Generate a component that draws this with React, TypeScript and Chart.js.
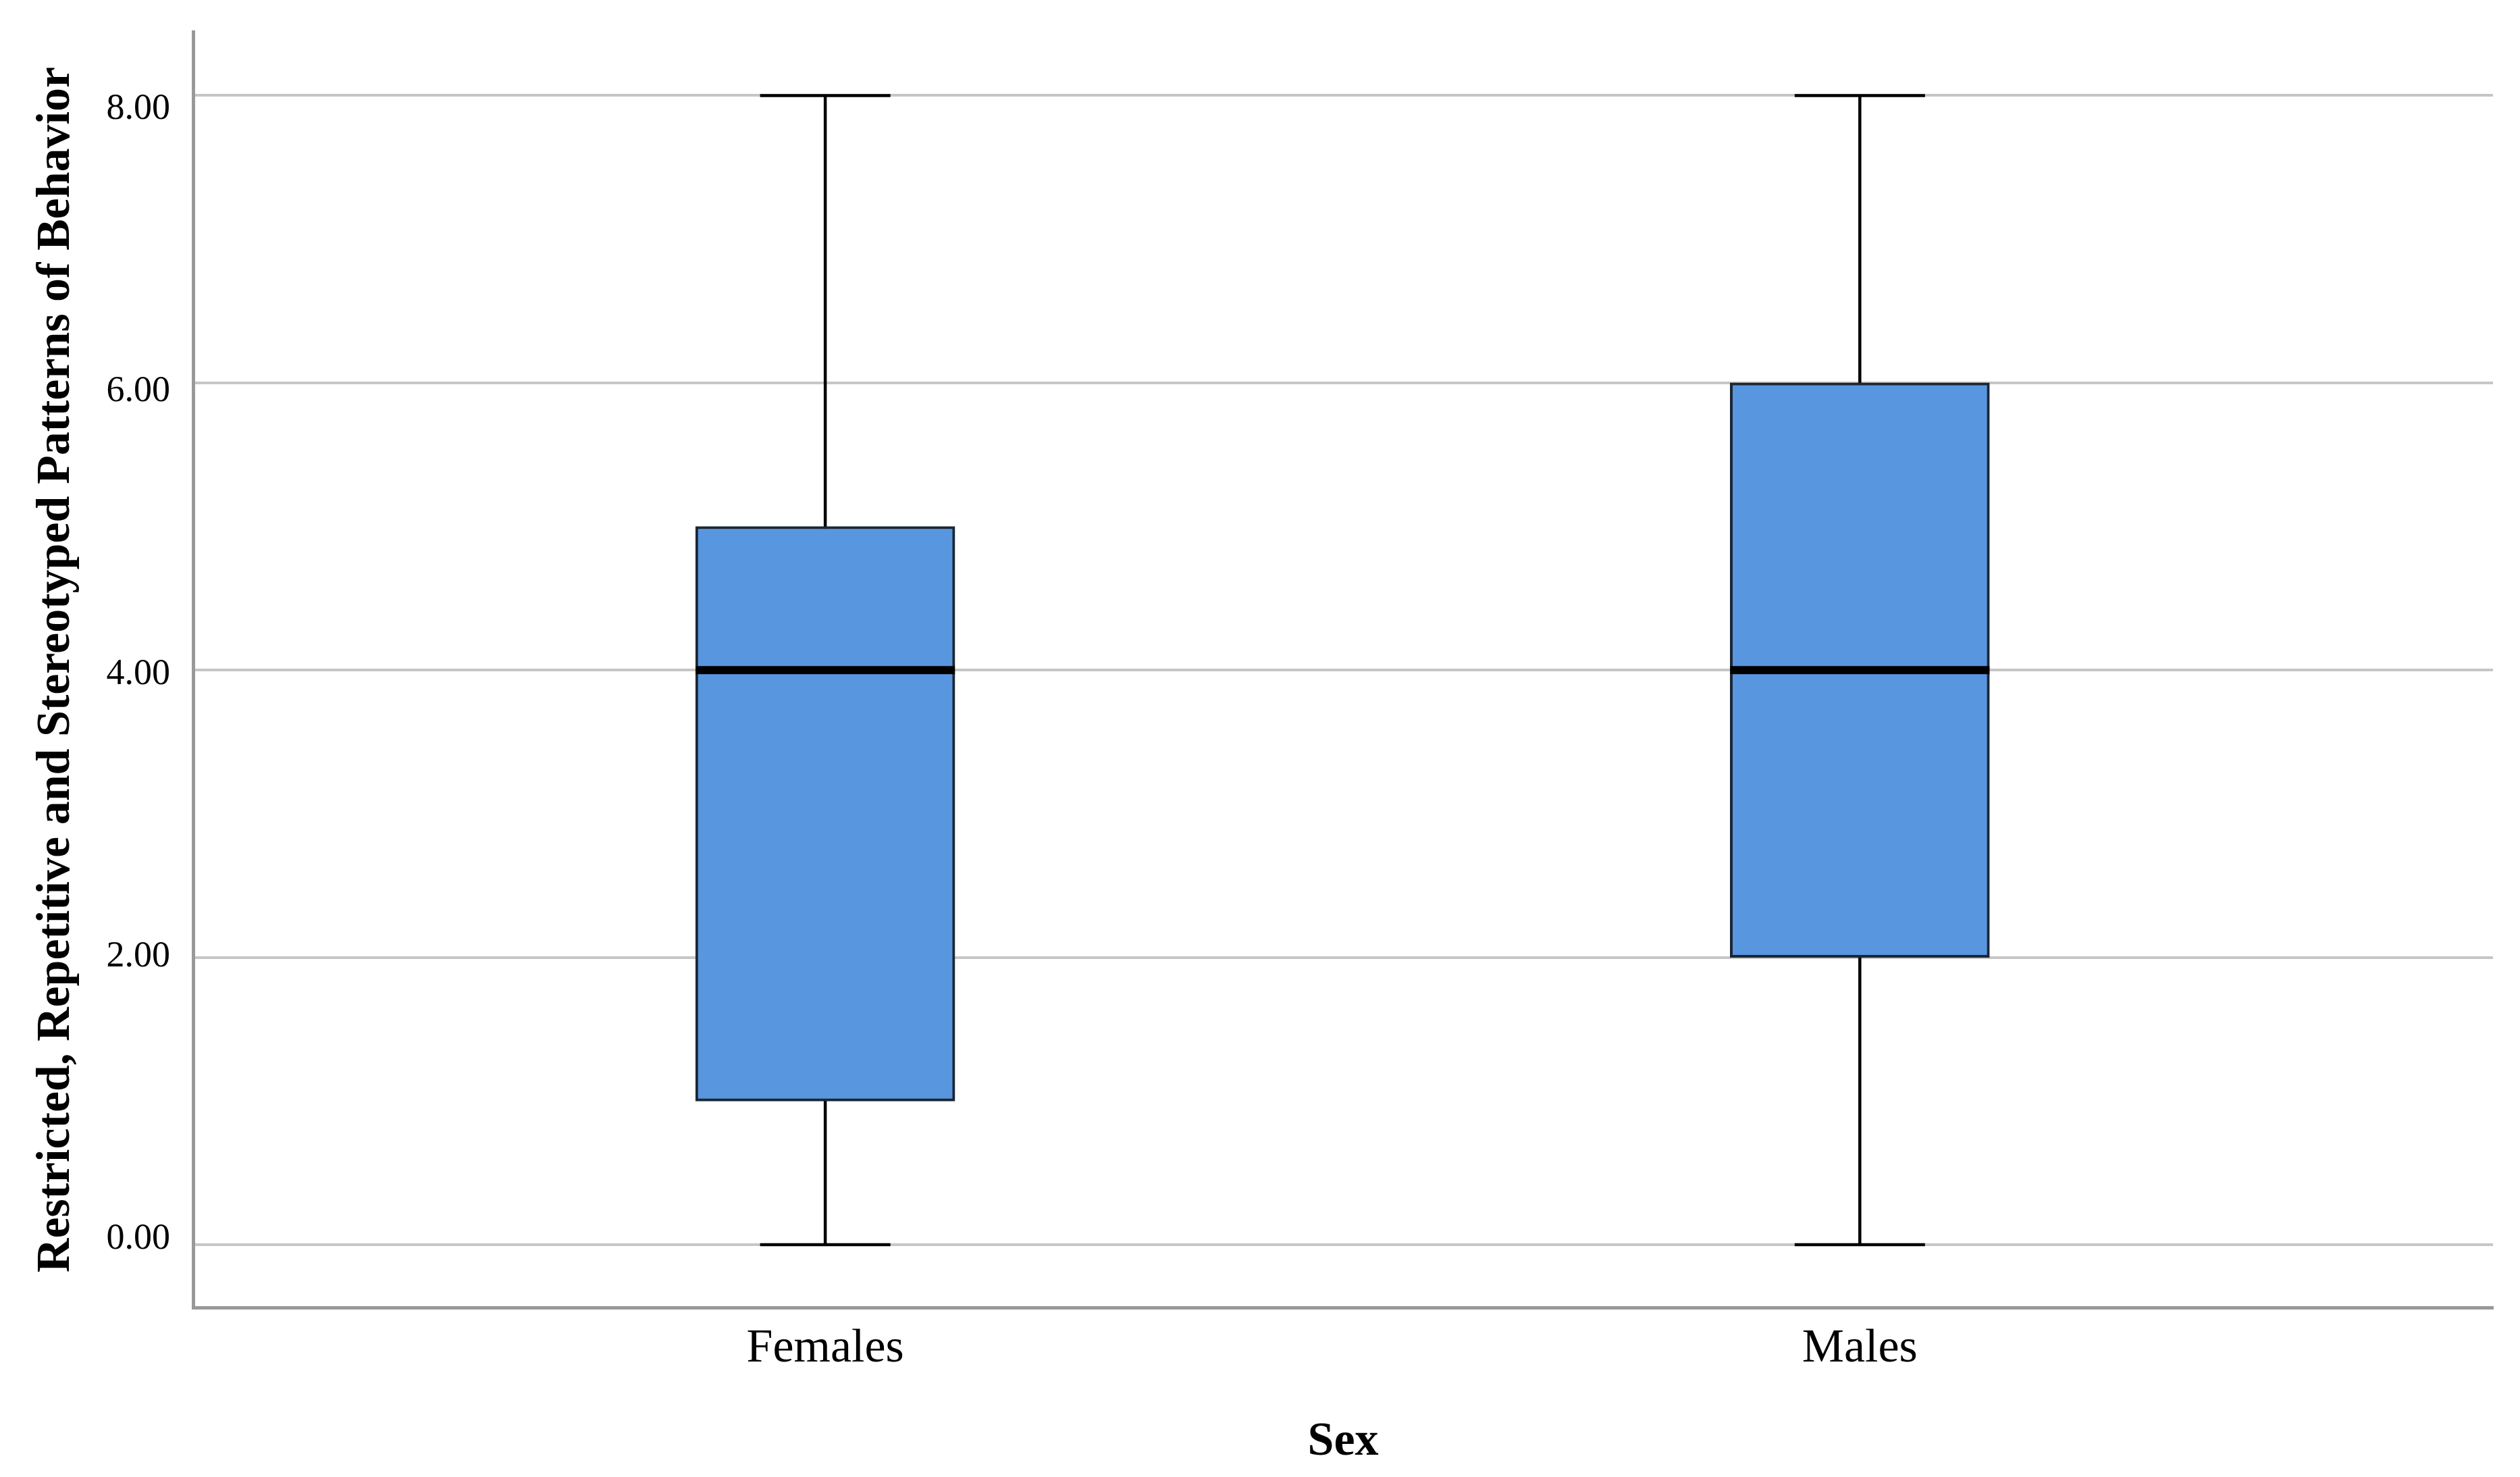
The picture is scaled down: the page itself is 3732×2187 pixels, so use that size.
import React, { useEffect, useRef } from 'react';
import { Chart, registerables } from 'chart.js';

Chart.register(...registerables);

// ---- data ----
const categories = ['Females', 'Males'];
const mins = [0, 0];
const q1s = [1, 2];
const medians = [4, 4];
const q3s = [5, 6];
const maxs = [8, 8];
const yTickValues = [0, 2, 4, 6, 8];
const yTitle = 'Restricted, Repetitive and Stereotyped Patterns of Behavior';
const xTitle = 'Sex';

// ---- style constants ----
const FONT = "'Liberation Serif', 'Times New Roman', serif";
const BOX_HALF = 0.1253;
const CAP_HALF = 0.063;
const BOX_FILL = '#5896E0';
const BOX_BORDER = '#1c2633';

export default function App() {
  const ref = useRef<HTMLCanvasElement>(null);

  useEffect(() => {
    document.body.style.margin = '0';
    document.body.style.overflow = 'hidden';
    const pos = categories.map((_, i) => i + 1);

    const boxData = pos.map((x, i) => ({ x, y: [q1s[i], q3s[i]] }));
    const whiskerData: any[] = [];
    const capData: any[] = [];
    const medianData: any[] = [];
    pos.forEach((x, i) => {
      whiskerData.push({ x, y: mins[i] }, { x, y: maxs[i] }, { x, y: null });
      capData.push(
        { x: x - CAP_HALF, y: mins[i] },
        { x: x + CAP_HALF, y: mins[i] },
        { x, y: null },
        { x: x - CAP_HALF, y: maxs[i] },
        { x: x + CAP_HALF, y: maxs[i] },
        { x, y: null }
      );
      medianData.push(
        { x: x - BOX_HALF, y: medians[i] },
        { x: x + BOX_HALF, y: medians[i] },
        { x, y: null }
      );
    });

    const lineBase = {
      type: 'line' as const,
      pointRadius: 0,
      pointHoverRadius: 0,
      tension: 0,
      spanGaps: false,
      fill: false,
      borderCapStyle: 'butt' as const,
    };

    const noPad = (s: any) => {
      s.paddingTop = 0;
      s.paddingBottom = 0;
      s.paddingLeft = 0;
      s.paddingRight = 0;
    };

    const chart = new Chart(ref.current!, {
      type: 'bar',
      data: {
        datasets: [
          {
            ...lineBase,
            label: 'whiskers',
            data: whiskerData,
            borderColor: '#000000',
            borderWidth: 4.5,
            order: 5,
          } as any,
          {
            type: 'bar',
            label: 'box',
            data: boxData as any,
            backgroundColor: BOX_FILL,
            borderColor: BOX_BORDER,
            borderWidth: 4,
            borderSkipped: false,
            barThickness: 384,
            order: 3,
          } as any,
          {
            ...lineBase,
            label: 'caps',
            data: capData,
            borderColor: '#000000',
            borderWidth: 4.5,
            order: 1,
          } as any,
          {
            ...lineBase,
            label: 'median',
            data: medianData,
            borderColor: '#000000',
            borderWidth: 12,
            order: 0,
          } as any,
        ],
      },
      options: {
        animation: false,
        responsive: true,
        maintainAspectRatio: false,
        devicePixelRatio: 1,
        layout: { padding: { top: 47, right: 40, left: 0, bottom: 0 } },
        plugins: {
          legend: { display: false },
          tooltip: { enabled: false },
        },
        events: [],
        scales: {
          x: {
            type: 'linear',
            position: 'bottom',
            min: 0.389,
            max: 2.612,
            offset: false,
            grid: { display: false, drawTicks: false },
            border: { display: true, color: '#999999', width: 5 },
            afterBuildTicks: (s: any) => {
              s.ticks = pos.map((v) => ({ value: v }));
            },
            afterFit: (s: any) => {
              s.height = 251;
              noPad(s);
            },
            ticks: {
              padding: 20,
              color: '#000000',
              maxRotation: 0,
              autoSkip: false,
              font: { family: FONT, size: 70 },
              callback: (v: any) => categories[Math.round(Number(v)) - 1] ?? '',
            },
            title: {
              display: true,
              text: xTitle,
              color: '#000000',
              font: { family: FONT, size: 70, weight: 'bold' },
              padding: { top: 0, bottom: 9 },
            },
          },
          y: {
            type: 'linear',
            position: 'left',
            weight: 0,
            min: -0.437,
            max: 8.444,
            grid: { color: '#c6c6c6', lineWidth: 4, drawTicks: false },
            border: { display: true, color: '#999999', width: 5 },
            ticks: { display: false },
            afterBuildTicks: (s: any) => {
              s.ticks = yTickValues.map((v) => ({ value: v }));
            },
            afterFit: (s: any) => {
              s.width = 0;
              noPad(s);
            },
          },
          y2: {
            type: 'linear',
            position: 'left',
            weight: 1,
            min: -0.483,
            max: 8.55,
            grid: { display: false, drawTicks: false },
            border: { display: false },
            afterBuildTicks: (s: any) => {
              s.ticks = yTickValues.map((v) => ({ value: v }));
            },
            afterFit: (s: any) => {
              s.width = 286;
              noPad(s);
            },
            ticks: {
              padding: 34,
              color: '#000000',
              autoSkip: false,
              font: { family: FONT, size: 54 },
              callback: (v: any) => Number(v).toFixed(2),
            },
            title: {
              display: true,
              text: yTitle,
              color: '#000000',
              font: { family: FONT, size: 70, weight: 'bold' },
              padding: { top: 42, bottom: 0 },
            },
          },
        },
      } as any,
    });

    return () => chart.destroy();
  }, []);

  return (
    <div style={{ position: 'relative', width: '3732px', height: '2187px' }}>
      <canvas ref={ref} />
    </div>
  );
}
